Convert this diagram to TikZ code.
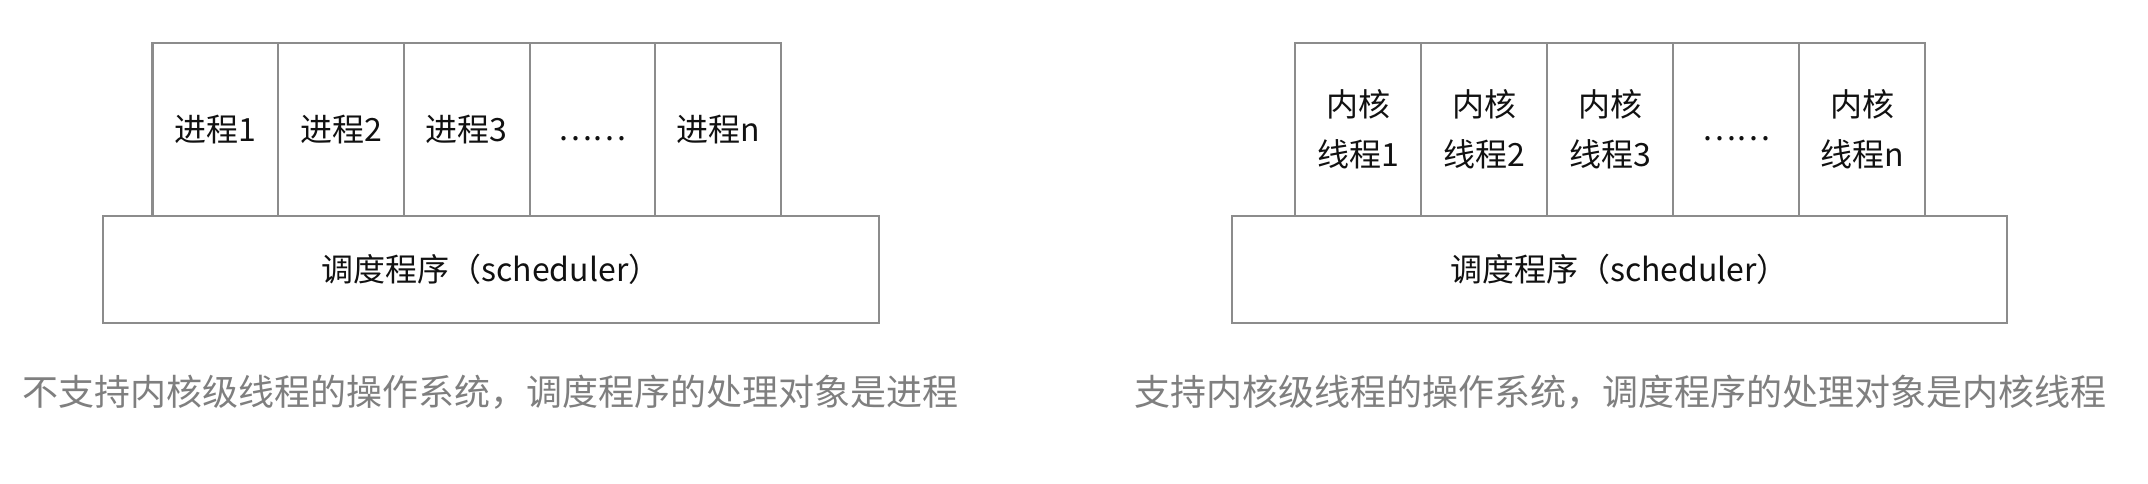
\documentclass[tikz,border=0pt]{standalone}
\usepackage{fontspec}
\setmainfont{Noto Sans CJK SC}
\definecolor{boxline}{HTML}{8C8C8C}
\definecolor{captiongray}{HTML}{7F7F7F}
\definecolor{txt}{HTML}{111111}
\newcommand{\lowdots}{\raisebox{-9pt}[\height][\depth]{……}}
\begin{document}
\begin{tikzpicture}[x=1pt,y=-1pt,
  cell/.style={draw=boxline,line width=2.2pt,rectangle,inner sep=0pt,
    minimum width=125.7pt,minimum height=173pt,align=center,text=txt,
    font=\fontsize{32}{50}\selectfont},
  sched/.style={draw=boxline,line width=2.2pt,rectangle,inner sep=0pt,
    minimum width=776pt,minimum height=107pt,text=txt,
    font=\fontsize{32}{40}\selectfont},
  caption/.style={inner sep=0pt,text=captiongray,font=\fontsize{36}{40}\selectfont}]
\fill[white] (0,0) rectangle (2148,483);
\useasboundingbox (0,0) rectangle (2148,483);
% left
\node[cell] (p1) at (215.35,129.5) {进程1};
\node[cell] (p2) at (341.05,129.5) {进程2};
\node[cell] (p3) at (466.75,129.5) {进程3};
\node[cell] (p4) at (592.45,129.5) {\lowdots};
\node[cell] (p5) at (718.15,129.5) {进程n};
\node[sched] (s1) at (491,269.5) {调度程序（scheduler）};
\node[caption] (c1) at (491,392) {不支持内核级线程的操作系统，调度程序的处理对象是进程};
% right
\node[cell, minimum width=126pt] (k1) at (1358,129.5) {内核\\线程1};
\node[cell, minimum width=126pt] (k2) at (1484,129.5) {内核\\线程2};
\node[cell, minimum width=126pt] (k3) at (1610,129.5) {内核\\线程3};
\node[cell, minimum width=126pt] (k4) at (1736,129.5) {\lowdots};
\node[cell, minimum width=126pt] (k5) at (1862,129.5) {内核\\线程n};
\node[sched, minimum width=775pt] (s2) at (1619.5,269.5) {调度程序（scheduler）};
\node[caption] (c2) at (1620,392) {支持内核级线程的操作系统，调度程序的处理对象是内核线程};
\end{tikzpicture}
\end{document}
